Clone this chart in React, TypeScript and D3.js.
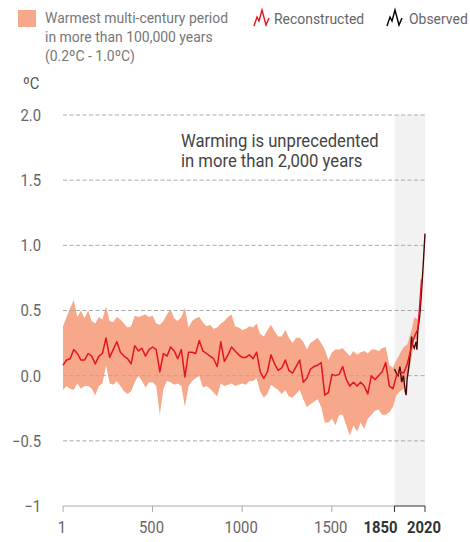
import * as d3 from 'd3';
import type { ReactNode } from 'react';

// reconstructed (20-year steps from year 1), 5-95% range ends in 1981
const reconYears = d3.range(1, 2002, 20);
const reconValues = [
  0.08, 0.12, 0.13, 0.2, 0.17, 0.12, 0.12, 0.17, 0.15, 0.09,
  0.15, 0.17, 0.29, 0.14, 0.2, 0.26, 0.18, 0.15, 0.13, 0.09,
  0.23, 0.19, 0.21, 0.15, 0.2, 0.22, 0.2, 0.03, 0.17, 0.15,
  0.22, 0.19, 0.13, 0.2, -0.01, 0.18, 0.18, 0.17, 0.27, 0.19,
  0.17, 0.15, 0.13, 0.07, 0.26, 0.11, 0.16, 0.22, 0.19, 0.16,
  0.14, 0.14, 0.16, 0.13, 0.18, 0.03, -0.02, 0.03, 0.16, 0.09,
  0.04, 0.06, 0.12, 0.04, 0.02, 0.07, 0.12, -0.05, -0.02, 0.05,
  0.07, 0.08, 0.1, -0.15, -0.13, 0.01, 0.0, 0.01, 0.07, -0.03,
  -0.08, -0.05, -0.08, -0.05, -0.08, -0.14, 0.0, -0.03, 0.0, 0.03,
  0.1, -0.08, -0.1, 0.0, 0.03, 0.02, 0.09, 0.2, 0.3, 0.36,
  0.74,
];
const bandUpper = [
  0.38, 0.45, 0.52, 0.58, 0.45, 0.5, 0.44, 0.5, 0.42, 0.4,
  0.45, 0.43, 0.53, 0.42, 0.41, 0.45, 0.43, 0.4, 0.37, 0.38,
  0.46, 0.45, 0.46, 0.47, 0.45, 0.46, 0.4, 0.39, 0.42, 0.47,
  0.51, 0.44, 0.42, 0.45, 0.52, 0.37, 0.42, 0.44, 0.45, 0.41,
  0.38, 0.39, 0.36, 0.37, 0.4, 0.42, 0.45, 0.47, 0.38, 0.37,
  0.35, 0.36, 0.38, 0.37, 0.4, 0.32, 0.3, 0.35, 0.39, 0.34,
  0.3, 0.3, 0.35, 0.29, 0.25, 0.29, 0.29, 0.26, 0.2, 0.25,
  0.27, 0.29, 0.25, 0.2, 0.12, 0.18, 0.2, 0.2, 0.21, 0.18,
  0.15, 0.19, 0.16, 0.18, 0.19, 0.17, 0.2, 0.2, 0.19, 0.21,
  0.22, 0.08, 0.06, 0.12, 0.17, 0.22, 0.24, 0.33, 0.45, 0.43,
];
const bandLower = [
  -0.11, -0.08, -0.1, -0.11, -0.06, -0.1, -0.08, -0.08, -0.1, -0.15,
  -0.08, -0.06, 0.08, -0.06, -0.07, -0.04, -0.08, -0.12, -0.14, -0.12,
  -0.05, 0.0, -0.04, -0.09, -0.05, -0.05, -0.08, -0.3, -0.1, -0.04,
  -0.05, -0.07, -0.06, -0.08, -0.24, -0.08, -0.04, -0.02, 0.0, -0.09,
  -0.08, -0.1, -0.13, -0.16, -0.06, -0.08, -0.07, -0.06, -0.08, -0.07,
  -0.06, -0.07, -0.04, -0.04, -0.02, -0.12, -0.17, -0.14, -0.07, -0.09,
  -0.11, -0.14, -0.11, -0.16, -0.17, -0.14, -0.11, -0.18, -0.24, -0.22,
  -0.2, -0.18, -0.24, -0.36, -0.36, -0.33, -0.38, -0.3, -0.3, -0.38,
  -0.46, -0.38, -0.43, -0.36, -0.41, -0.33, -0.3, -0.27, -0.26, -0.3,
  -0.3, -0.28, -0.24, -0.15, -0.12, -0.1, 0.01, 0.1, 0.28, 0.28,
];

const obsYears = [1850, 1860, 1870, 1880, 1890, 1900, 1910, 1915, 1920, 1930, 1940, 1945, 1950, 1960, 1970, 1975, 1980, 1990, 2000, 2010, 2020];
const obsValues = [0.05, 0.02, 0.0, 0.07, -0.05, 0.0, -0.12, -0.15, -0.03, 0.07, 0.2, 0.3, 0.24, 0.21, 0.26, 0.2, 0.35, 0.45, 0.63, 0.85, 1.09];

const yTicks = [2, 1.5, 1, 0.5, 0, -0.5, -1];
const yTickLabels = ['2.0', '1.5', '1.0', '0.5', '0.0', '\u22120.5', '\u22121'];
const xTicks = [1, 500, 1000, 1500, 1850, 2020];
const legendLines = ['Warmest multi-century period', 'in more than 100,000 years', '(0.2ºC - 1.0ºC)'];

const width = 470;
const height = 542;
const red = '#e5141f';
const band = '#f8a88a';

// Roboto squeezed a bit, to look like the condensed face of the original
const T = (p: {
  x: number;
  y: number;
  size: number;
  fill: string;
  anchor?: 'start' | 'middle' | 'end';
  weight?: number;
  dy?: string;
  children: ReactNode;
}) => (
  <text
    transform={`translate(${p.x},${p.y}) scale(0.9,1)`}
    textAnchor={p.anchor ?? 'start'}
    fontSize={p.size}
    fontWeight={p.weight ?? 400}
    fill={p.fill}
    dy={p.dy}
  >
    {p.children}
  </text>
);

const App = () => {
  const x = d3.scaleLinear().domain([1, 2020]).range([63, 425]);
  const y = d3.scaleLinear().domain([-1, 2]).range([506, 115]);

  const bandPath = d3
    .area<number>()
    .x((_, i) => x(reconYears[i]))
    .y0((_, i) => y(bandLower[i]))
    .y1(d => y(d))(bandUpper);
  const reconPath = d3
    .line<number>()
    .x((_, i) => x(reconYears[i]))
    .y(d => y(d))(reconValues);
  const obsPath = d3
    .line<number>()
    .x((_, i) => x(obsYears[i]))
    .y(d => y(d))(obsValues);

  const icon = (x0: number) => `M${x0},26L${x0 + 3},17L${x0 + 5},21L${x0 + 8},10L${x0 + 12},25L${x0 + 15},18`;

  return (
    <svg width={width} height={height} style={{ position: 'absolute', left: 0, top: 0 }} fontFamily="Roboto, sans-serif">
      {/* legend */}
      <rect x={18} y={10} width={18} height={17} fill={band} />
      {legendLines.map((t, i) => (
        <T key={t} x={45} y={23 + i * 19} size={15.5} fill="#777">
          {t}
        </T>
      ))}
      <path d={icon(254)} fill="none" stroke={red} strokeWidth={1.4} />
      <T x={274} y={24} size={15.5} fill="#666">Reconstructed</T>
      <path d={icon(387)} fill="none" stroke="#000" strokeWidth={1.4} />
      <T x={409} y={24} size={15.5} fill="#666">Observed</T>

      <T x={23} y={89} size={16.5} fill="#555">ºC</T>

      {/* 1850-2020 shading */}
      <rect x={x(1850)} y={y(2)} width={x(2020) - x(1850)} height={y(-1) - y(2)} fill="#f2f2f2" />

      <path d={bandPath ?? ''} fill={band} />

      {yTicks.map((t, i) => (
        <g key={t}>
          {t > -1 && (
            <line x1={63} x2={425} y1={y(t)} y2={y(t)} stroke="#aaa" strokeDasharray="4,2.5" strokeWidth={1} />
          )}
          <T x={41} y={y(t)} dy="0.36em" anchor="end" size={16.5} fill="#666">
            {yTickLabels[i]}
          </T>
        </g>
      ))}

      <path d={obsPath ?? ''} fill="none" stroke="#4a0505" strokeWidth={1.4} />
      <path d={reconPath ?? ''} fill="none" stroke={red} strokeWidth={1.5} strokeLinejoin="round" />

      {/* x axis */}
      <line x1={x(1)} x2={x(1850)} y1={y(-1)} y2={y(-1)} stroke="#aaa" />
      <line x1={x(1850)} x2={x(2020)} y1={y(-1)} y2={y(-1)} stroke="#333" />
      {xTicks.map(t => {
        const dark = t >= 1850;
        return (
          <g key={t}>
            <line x1={x(t)} x2={x(t)} y1={y(-1)} y2={y(-1) + 6} stroke={dark ? '#333' : '#aaa'} />
            <T
              x={t === 1850 ? x(t) + 3 : x(t) - 1}
              y={533}
              anchor={t === 1850 ? 'end' : 'middle'}
              size={16.5}
              weight={dark ? 700 : 400}
              fill={dark ? '#333' : '#666'}
            >
              {t}
            </T>
          </g>
        );
      })}

      <T x={181} y={147} size={18.5} fill="#444">Warming is unprecedented</T>
      <T x={181} y={167} size={18.5} fill="#444">in more than 2,000 years</T>
    </svg>
  );
};

export default App;
